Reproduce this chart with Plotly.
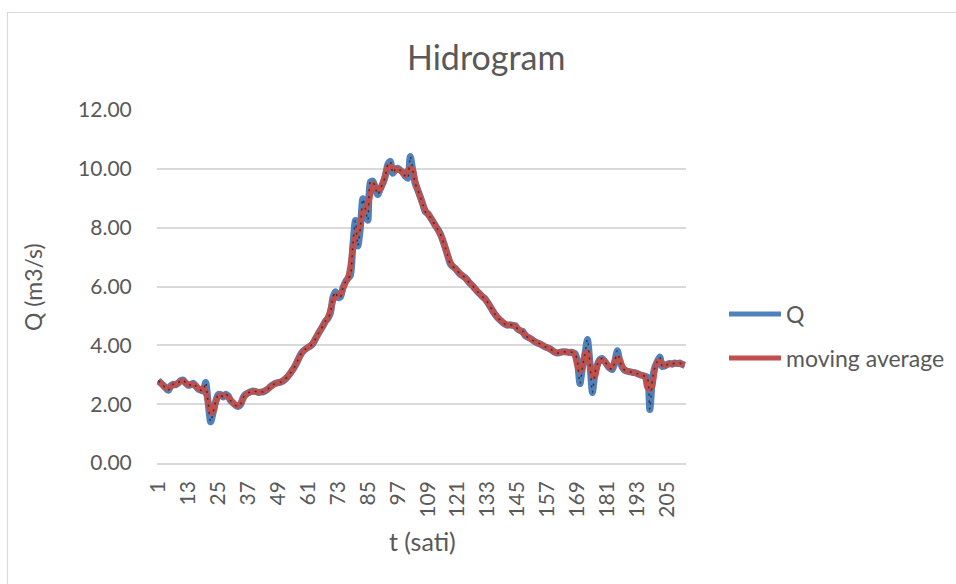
import plotly.graph_objects as go

# ---- data ----
t_hours = list(range(1, 213))
q_values = [
    2.80, 2.72, 2.64, 2.55, 2.47, 2.62, 2.68, 2.66, 2.72, 2.80,
    2.82, 2.72, 2.64, 2.66, 2.71, 2.62, 2.52, 2.48, 2.45, 2.74,
    2.05, 1.40, 1.72, 2.08, 2.32, 2.33, 2.24, 2.34, 2.28, 2.12,
    2.04, 1.96, 1.92, 1.98, 2.22, 2.33, 2.38, 2.42, 2.45, 2.43,
    2.40, 2.41, 2.42, 2.46, 2.52, 2.60, 2.66, 2.71, 2.73, 2.75,
    2.79, 2.86, 2.95, 3.06, 3.18, 3.33, 3.50, 3.68, 3.80, 3.87,
    3.93, 3.98, 4.06, 4.22, 4.38, 4.52, 4.66, 4.82, 4.92, 5.10,
    5.62, 5.82, 5.62, 5.64, 5.95, 6.15, 6.28, 6.38, 7.40, 8.24,
    7.38, 8.00, 8.98, 8.65, 8.25, 9.55, 9.58, 9.35, 9.12, 9.32,
    9.50, 9.75, 10.15, 10.25, 9.85, 9.98, 10.02, 9.95, 9.88, 9.75,
    9.68, 10.42, 9.95, 9.50, 9.28, 9.05, 8.80, 8.54, 8.48, 8.36,
    8.22, 8.08, 7.95, 7.80, 7.58, 7.32, 7.05, 6.78, 6.68, 6.62,
    6.52, 6.42, 6.36, 6.30, 6.20, 6.10, 6.02, 5.92, 5.82, 5.74,
    5.65, 5.58, 5.46, 5.32, 5.18, 5.05, 4.94, 4.86, 4.78, 4.72,
    4.68, 4.70, 4.68, 4.67, 4.56, 4.50, 4.48, 4.34, 4.28, 4.24,
    4.18, 4.12, 4.08, 4.05, 4.00, 3.95, 3.92, 3.88, 3.82, 3.76,
    3.74, 3.76, 3.78, 3.78, 3.77, 3.76, 3.76, 3.72, 3.45, 2.70,
    3.25, 3.70, 4.20, 3.40, 2.40, 3.05, 3.35, 3.52, 3.55, 3.45,
    3.32, 3.22, 3.18, 3.45, 3.82, 3.45, 3.25, 3.15, 3.12, 3.10,
    3.08, 3.07, 3.04, 3.00, 2.98, 2.95, 2.92, 1.82, 2.80, 3.25,
    3.45, 3.60, 3.28, 3.30, 3.35, 3.38, 3.36, 3.40, 3.38, 3.40,
    3.35, 3.32,
]
# moving average of Q (3-point, centred)
ma_values = []
for i in range(len(q_values)):
    win = q_values[max(0, i - 1): i + 2]
    ma_values.append(sum(win) / len(win))

x_tick_vals = list(range(1, 213, 12))
x_tick_text = [str(v) for v in x_tick_vals]
y_tick_vals = [0, 2, 4, 6, 8, 10, 12]

chart_title = "Hidrogram"
x_title = "t (sati)"
y_title = "Q (m3/s)"
series_names = ["Q", "moving average"]

BLUE = "#4f81bd"
RED = "#c0504d"
TXT = "#595959"
GRID = "#d9d9d9"
FONT = "Lato, 'Open Sans', sans-serif"

W, H = 956, 584
L, R, T, B = 157, 686, 110, 463


def px(x):
    return (x - L) / (R - L)


def py(y):
    return (B - y) / (B - T)


fig = go.Figure()
fig.add_trace(go.Scatter(x=t_hours, y=q_values, mode="lines", name=series_names[0],
                         line=dict(color=BLUE, width=7, shape="spline", smoothing=0.7),
                         showlegend=False))
fig.add_trace(go.Scatter(x=t_hours, y=ma_values, mode="lines", name=series_names[1],
                         line=dict(color=RED, width=6, shape="spline", smoothing=0.7),
                         showlegend=False))
fig.add_trace(go.Scatter(x=t_hours, y=q_values, mode="lines", name="Q (dash)",
                         line=dict(color="#333333", width=1.5, dash="2px,5px",
                                   shape="spline", smoothing=0.7),
                         showlegend=False, hoverinfo="skip"))

shapes = [
    # chart border (top and left)
    dict(type="line", xref="paper", yref="paper", x0=px(7), x1=px(956), y0=py(12.5), y1=py(12.5),
         line=dict(color=GRID, width=1.2)),
    dict(type="line", xref="paper", yref="paper", x0=px(7.5), x1=px(7.5), y0=py(12), y1=py(584),
         line=dict(color=GRID, width=1.2)),
    # legend lines
    dict(type="line", xref="paper", yref="paper", x0=px(729), x1=px(781), y0=py(314), y1=py(314),
         line=dict(color=BLUE, width=5)),
    dict(type="line", xref="paper", yref="paper", x0=px(729), x1=px(781), y0=py(358), y1=py(358),
         line=dict(color=RED, width=5)),
]

annotations = [
    dict(text=chart_title, xref="paper", yref="paper", x=px(486), y=py(57),
         xanchor="center", yanchor="middle", showarrow=False,
         font=dict(family=FONT, size=34, color=TXT)),
    dict(text=x_title, xref="paper", yref="paper", x=px(422), y=py(541),
         xanchor="center", yanchor="middle", showarrow=False,
         font=dict(family=FONT, size=25, color=TXT)),
    dict(text=y_title, xref="paper", yref="paper", x=px(33), y=py(287), textangle=-90,
         xanchor="center", yanchor="middle", showarrow=False,
         font=dict(family=FONT, size=23, color=TXT)),
    dict(text=series_names[0], xref="paper", yref="paper", x=px(784), y=py(314),
         xanchor="left", yanchor="middle", showarrow=False,
         font=dict(family=FONT, size=23, color=TXT)),
    dict(text=series_names[1], xref="paper", yref="paper", x=px(784), y=py(358),
         xanchor="left", yanchor="middle", showarrow=False,
         font=dict(family=FONT, size=23, color=TXT)),
]

fig.update_layout(
    width=W, height=H,
    margin=dict(l=L, r=W - R, t=T, b=H - B, pad=0),
    paper_bgcolor="white", plot_bgcolor="white",
    showlegend=False,
    shapes=shapes, annotations=annotations,
    font=dict(family=FONT, color=TXT),
    xaxis=dict(range=[0.5, 212.5], tickmode="array", tickvals=x_tick_vals, ticktext=x_tick_text,
               tickangle=-90, showgrid=False, zeroline=False, showline=True,
               linecolor=GRID, linewidth=1.5, ticks="", ticklen=0, ticklabelstandoff=8,
               tickfont=dict(family=FONT, size=21, color=TXT)),
    yaxis=dict(range=[0, 12], tickmode="array", tickvals=y_tick_vals, tickformat=".2f",
               showgrid=True, gridcolor=GRID, gridwidth=1.5, zeroline=False, showline=False,
               ticks="outside", ticklen=20, tickcolor="rgba(0,0,0,0)",
               tickfont=dict(family=FONT, size=21, color=TXT)),
)

fig.write_html("out.html", config={"displayModeBar": False},
               post_script="document.body.style.margin='0';document.body.style.overflow='hidden';")
